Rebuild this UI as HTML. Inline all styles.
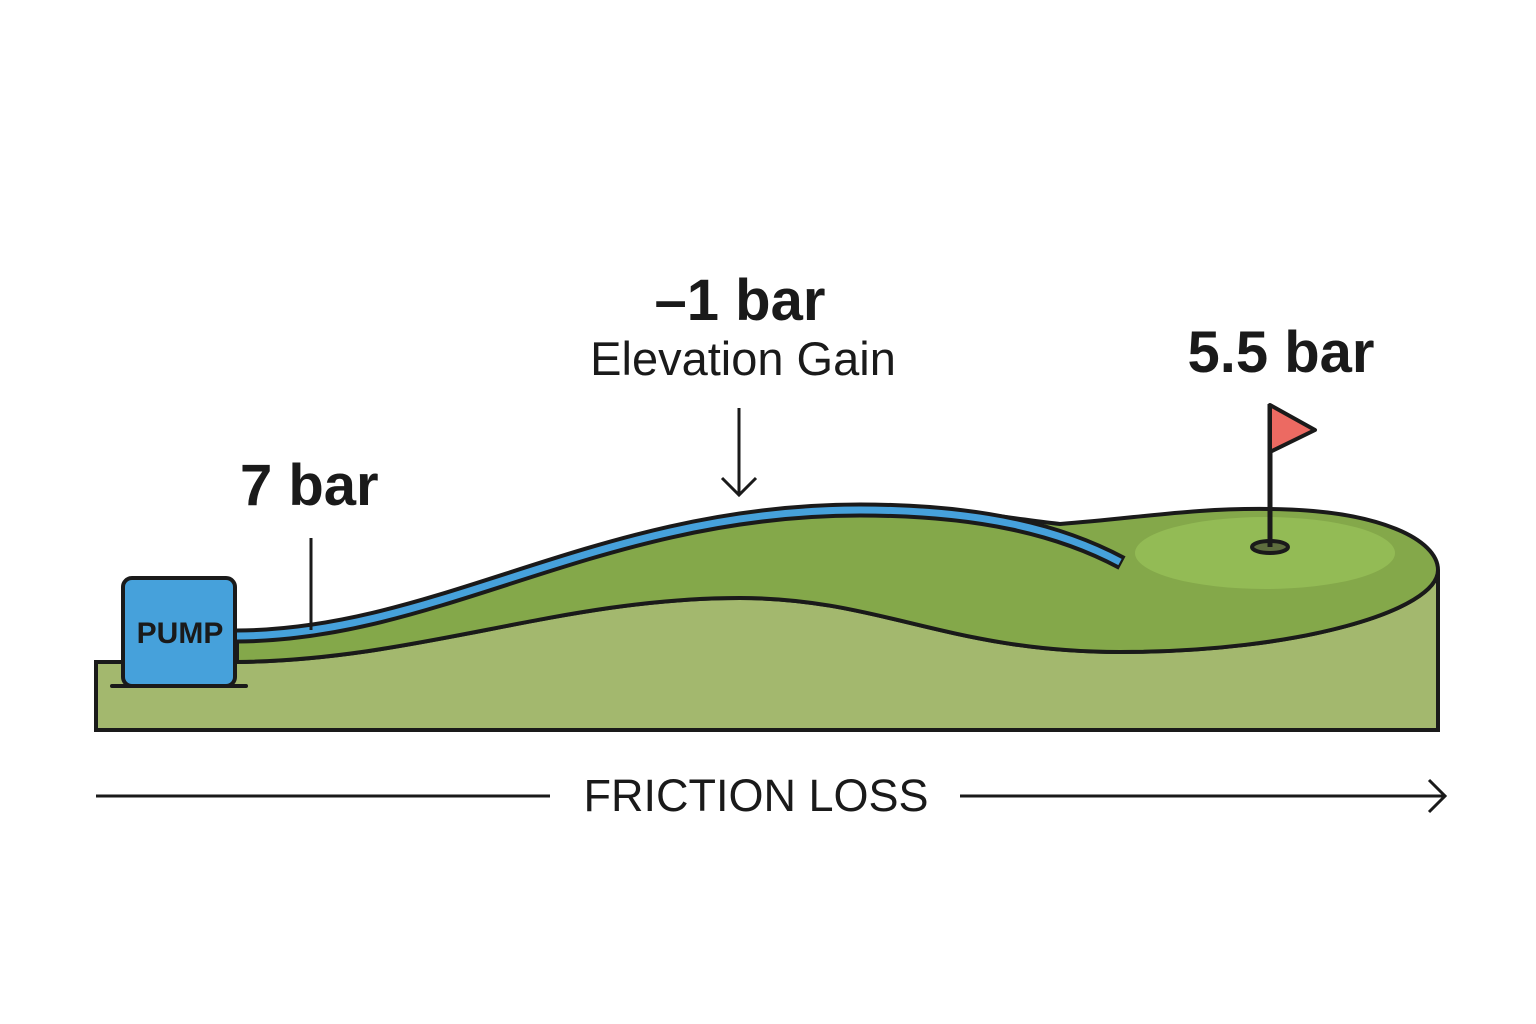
<!DOCTYPE html>
<html><head><meta charset="utf-8"><style>html,body{margin:0;padding:0;background:#fff}svg{display:block}</style></head>
<body>
<svg width="1536" height="1024" viewBox="0 0 1536 1024" xmlns="http://www.w3.org/2000/svg" font-family="Liberation Sans, sans-serif">
<rect width="1536" height="1024" fill="#fff"/>
<path d="M96,662 L237,662 C420,660 560,598 740,598 C880,598 950,652 1120,652 C1300,652 1438,610 1438,570 L1438,730 L96,730 Z" fill="#a3b86e" stroke="#1a1a1a" stroke-width="4"/>
<path d="M237,637 C440,636 600,510 860,507 C950,506 1020,520 1060,524 C1140,518 1190,508 1270,509 C1380,510 1438,540 1438,570 C1438,610 1300,652 1120,652 C950,652 880,598 740,598 C560,598 420,660 237,662 Z" fill="#84a84a" stroke="#1a1a1a" stroke-width="4"/>
<ellipse cx="1265" cy="553" rx="130" ry="36" fill="#93bb55"/>
<path d="M237,636 C440,635 600,510 860,510 C980,510 1060,530 1122,563" fill="none" stroke="#1a1a1a" stroke-width="15"/>
<path d="M237,636 C440,635 600,510 860,510 C980,510 1060,530 1120,562" fill="none" stroke="#46a1db" stroke-width="7"/>
<ellipse cx="1270" cy="547" rx="18" ry="6" fill="#5e6e3e" stroke="#1a1a1a" stroke-width="4"/>
<line x1="1270" y1="404" x2="1270" y2="547" stroke="#1a1a1a" stroke-width="5"/>
<path d="M1270,405 L1315,430 L1270,452 Z" fill="#ec6a62" stroke="#1a1a1a" stroke-width="4" stroke-linejoin="round"/>
<rect x="123" y="578" width="112" height="108" rx="9" fill="#46a1db" stroke="#1a1a1a" stroke-width="4"/>
<line x1="112" y1="686" x2="246" y2="686" stroke="#1a1a1a" stroke-width="4" stroke-linecap="round"/>
<text x="180" y="643" font-size="30" font-weight="bold" text-anchor="middle" fill="#1a1a1a">PUMP</text>
<text x="240" y="505" font-size="58" font-weight="bold" fill="#1a1a1a">7 bar</text>
<line x1="311" y1="538" x2="311" y2="630" stroke="#1a1a1a" stroke-width="3"/>
<text x="740" y="320" font-size="58" font-weight="bold" text-anchor="middle" fill="#1a1a1a">–1 bar</text>
<text x="743" y="375" font-size="47" text-anchor="middle" fill="#1a1a1a">Elevation Gain</text>
<line x1="739" y1="408" x2="739" y2="494" stroke="#1a1a1a" stroke-width="3"/>
<path d="M722,478 L739,495 L756,478" fill="none" stroke="#1a1a1a" stroke-width="3"/>
<text x="1281" y="372" font-size="58" font-weight="bold" text-anchor="middle" fill="#1a1a1a">5.5 bar</text>
<line x1="96" y1="796" x2="550" y2="796" stroke="#1a1a1a" stroke-width="3"/>
<line x1="960" y1="796" x2="1445" y2="796" stroke="#1a1a1a" stroke-width="3"/>
<path d="M1429,780 L1445,796 L1429,812" fill="none" stroke="#1a1a1a" stroke-width="3"/>
<text x="756" y="811" font-size="45" text-anchor="middle" fill="#1a1a1a">FRICTION LOSS</text>
</svg>
</body></html>
